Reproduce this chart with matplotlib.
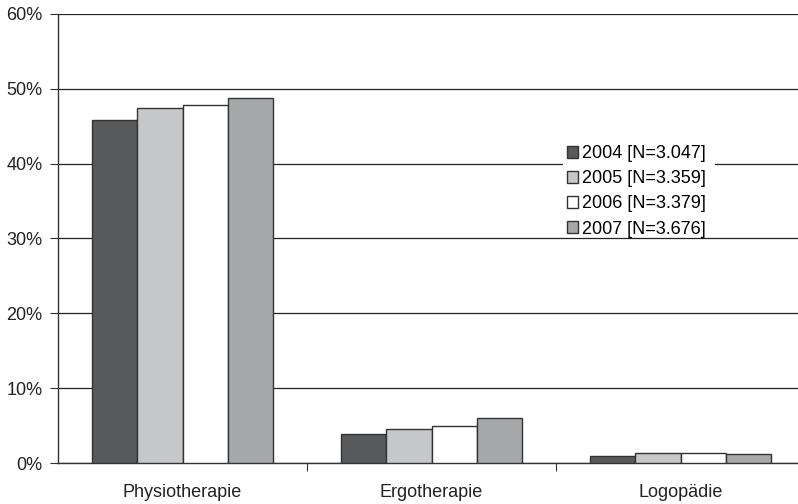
import matplotlib.pyplot as plt
import numpy as np
from matplotlib.ticker import PercentFormatter
from matplotlib.patches import Rectangle

plt.rcParams['font.family'] = ['Liberation Sans', 'DejaVu Sans']

categories = ['Physiotherapie', 'Ergotherapie', 'Logopädie']
years = ['2004 [N=3.047]', '2005 [N=3.359]', '2006 [N=3.379]', '2007 [N=3.676]']
values = [
    [45.9, 3.9, 1.0],   # 2004
    [47.5, 4.5, 1.4],   # 2005
    [47.8, 4.9, 1.3],   # 2006
    [48.8, 6.0, 1.25],  # 2007
]
colors = ['#58595b', '#c6c7c8', '#ffffff', '#a6a7a9']

W, H = 798, 504
fig = plt.figure(figsize=(W / 100, H / 100), dpi=100)
ax = fig.add_axes([58 / W, (H - 463) / H, (W - 58) / W, (463 - 14) / H])

x = np.arange(len(categories))
bw = 0.182
for i, (lab, vals, c) in enumerate(zip(years, values, colors)):
    ax.bar(x + (i - 1.5) * bw, vals, bw, color=c, edgecolor='#333333',
           linewidth=1.0, label=lab, zorder=3)

ax.set_ylim(0, 60)
ax.set_xlim(-0.5, 2.5 - 7 / 249)
ax.set_yticks(np.arange(0, 61, 10))
ax.yaxis.set_major_formatter(PercentFormatter(decimals=0))
ax.grid(axis='y', color='#222222', linewidth=0.9, zorder=0)

ax.set_xticks([0.5, 1.5])
ax.set_xticklabels([])
ax.set_xticks(x, minor=True)
ax.set_xticklabels(categories, minor=True)
ax.tick_params(axis='x', which='minor', length=0, pad=15, labelsize=13, colors='#222222')
ax.tick_params(axis='x', which='major', length=6, direction='out', color='#333333')
ax.tick_params(axis='y', length=6, direction='out', labelsize=13, pad=5,
               color='#333333', labelcolor='#222222')

for s in ['top', 'right']:
    ax.spines[s].set_visible(False)
for s in ['left', 'bottom']:
    ax.spines[s].set_color('#333333')
    ax.spines[s].set_linewidth(1.0)

# white box behind the legend, hides the 40% gridline only
ax.add_patch(Rectangle((563 / W, (H - 233) / H), 152 / W, 93 / H,
                       transform=fig.transFigure, facecolor='white',
                       edgecolor='none', zorder=2, clip_on=False))

leg = ax.legend(loc='upper left', bbox_to_anchor=(565 / W, (H - 143) / H),
                bbox_transform=fig.transFigure, frameon=False,
                fontsize=13, handlelength=0.62, handleheight=0.62,
                handletextpad=0.2, labelspacing=0.45, borderpad=0.12,
                borderaxespad=0)

fig.savefig('out.png', dpi=100)
